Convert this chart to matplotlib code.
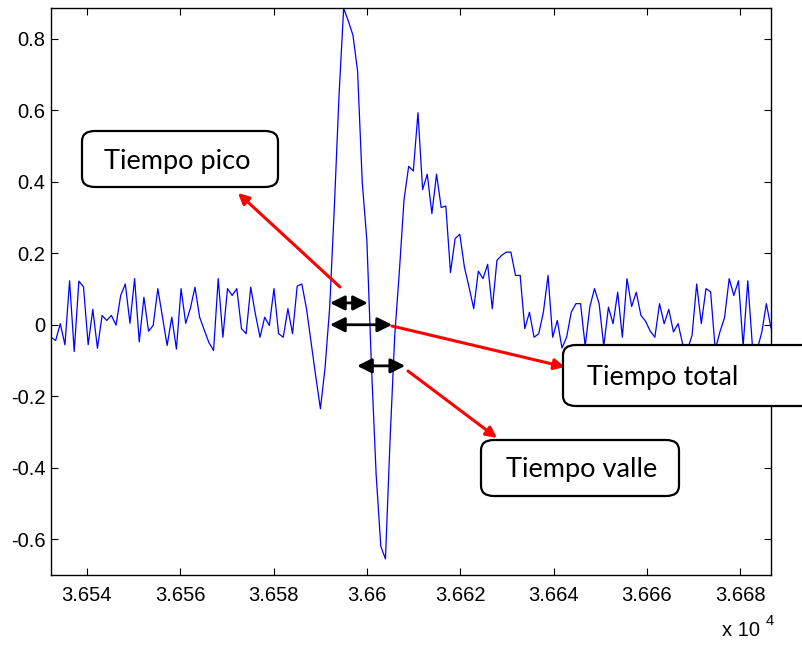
import numpy as np
import matplotlib
matplotlib.use("Agg")
import matplotlib.pyplot as plt
from matplotlib.patches import FancyBboxPatch

# signal samples (one per time step)
signal = [
    -0.035, -0.044, 0.003, -0.056, 0.123, -0.075, 0.122, 0.106, -0.056, 0.043,
    -0.066, 0.026, 0.012, 0.026, -0.001, 0.082, 0.114, 0.004, 0.129, -0.048,
    0.077, -0.018, -0.002, 0.101, 0.021, -0.058, 0.021, -0.068, 0.101, 0.004,
    0.046, 0.105, 0.021, -0.015, -0.050, -0.072, 0.129, -0.035, 0.101, 0.082,
    0.101, -0.011, -0.025, 0.105, 0.030, -0.035, 0.021, -0.002, 0.101, -0.025,
    -0.035, 0.045, -0.025, 0.108, 0.114, 0.045, -0.050, -0.145, -0.235, -0.120,
    0.050, 0.330, 0.640, 0.885, 0.850, 0.810, 0.710, 0.400, 0.235, -0.120,
    -0.420, -0.620, -0.655, -0.320, -0.030, 0.150, 0.350, 0.443, 0.430, 0.593,
    0.378, 0.421, 0.311, 0.421, 0.328, 0.332, 0.146, 0.241, 0.253, 0.161,
    0.105, 0.045, 0.150, 0.129, 0.169, 0.045, 0.180, 0.194, 0.203, 0.203,
    0.138, 0.138, -0.011, 0.035, -0.035, -0.025, 0.035, 0.138, -0.035, 0.012,
    -0.065, -0.035, 0.035, 0.059, 0.059, -0.060, 0.050, 0.101, 0.059, -0.060,
    0.049, 0.003, 0.091, -0.035, 0.129, 0.051, 0.091, 0.026, 0.010, -0.018,
    -0.035, 0.059, 0.003, 0.043, -0.020, 0.003, -0.055, -0.070, -0.030, 0.114,
    0.003, 0.101, 0.092, -0.070, -0.020, 0.020, 0.129, 0.082, 0.123, -0.060,
    0.123, -0.060, -0.070, -0.022, 0.059, -0.009,
]
t_start, t_end = 36532.3, 36686.6
x_ticks = [36540, 36560, 36580, 36600, 36620, 36640, 36660, 36680]
y_ticks = [-0.6, -0.4, -0.2, 0, 0.2, 0.4, 0.6, 0.8]

# interval arrows (start, end, level) in data units
intervals = [(36592.1, 36600.2, 0.061),   # pico
             (36592.1, 36605.4, 0.0),     # total
             (36597.9, 36608.2, -0.115)]  # valle

plt.rcParams['font.family'] = ['Liberation Sans', 'DejaVu Sans']
plt.rcParams['axes.unicode_minus'] = False

W, H = 802, 646
fig = plt.figure(figsize=(W / 100, H / 100), dpi=100)


def fx(px):
    return px / W


def fy(py):
    return 1 - py / H


ax = fig.add_axes([fx(51), fy(575), 720 / W, 567 / H])
t = np.linspace(t_start, t_end, len(signal))
ax.plot(t, signal, color='#0000ff', lw=0.9)
ax.set_xlim(t_start, t_end)
ax.set_ylim(-0.7, 0.886)

ax.set_xticks(x_ticks)
ax.set_xticklabels(['%g' % (v / 1e4) for v in x_ticks])
ax.set_yticks(y_ticks)
ax.set_yticklabels(['%g' % v for v in y_ticks])
ax.tick_params(direction='in', top=True, right=True, length=5, width=0.8,
               labelsize=14.5)
ax.tick_params(axis='x', pad=8)
ax.tick_params(axis='y', pad=4)
for s in ax.spines.values():
    s.set_linewidth(1.0)

fig.text(fx(722), fy(636), 'x 10', fontsize=14.5, va='baseline', ha='left')
fig.text(fx(766), fy(625), '4', fontsize=10.5, va='baseline', ha='left')

# black double arrows
for a, b, lvl in intervals:
    ax.annotate('', xy=(b, lvl), xytext=(a, lvl),
                arrowprops=dict(arrowstyle='<|-|>', color='black', lw=2,
                                mutation_scale=22, shrinkA=0, shrinkB=0))

# red pointer arrows (figure pixels: tail -> head)
red_arrows = [((340, 287), (238, 193)),
              ((392, 326), (565, 367)),
              ((408, 371), (497, 438))]
for (x0, y0), (x1, y1) in red_arrows:
    ax.annotate('', xy=(fx(x1), fy(y1)), xytext=(fx(x0), fy(y0)),
                xycoords='figure fraction', textcoords='figure fraction',
                annotation_clip=False,
                arrowprops=dict(arrowstyle='-|>', color='red', lw=2.2,
                                mutation_scale=16, shrinkA=0, shrinkB=0))

# label boxes (figure pixels: left, top, right, bottom)
boxes = [('Tiempo pico', (82, 131, 278, 187), 104),
         ('Tiempo total', (563, 345, 830, 406), 587),
         ('Tiempo valle', (481, 440, 679, 496), 506)]
for label, (l, tp, r, b), tx in boxes:
    patch = FancyBboxPatch((fx(l), fy(b)), fx(r) - fx(l), fy(tp) - fy(b),
                           boxstyle='round,pad=0,rounding_size=0.016',
                           transform=fig.transFigure, facecolor='white',
                           edgecolor='black', lw=1.6, zorder=5)
    fig.patches.append(patch)
    fig.text(fx(tx), fy((tp + b) / 2 + 2), label, family=['Lato', 'DejaVu Sans'],
             fontsize=19.5, va='center', ha='left', zorder=6)

fig.savefig('out.png', dpi=100)
